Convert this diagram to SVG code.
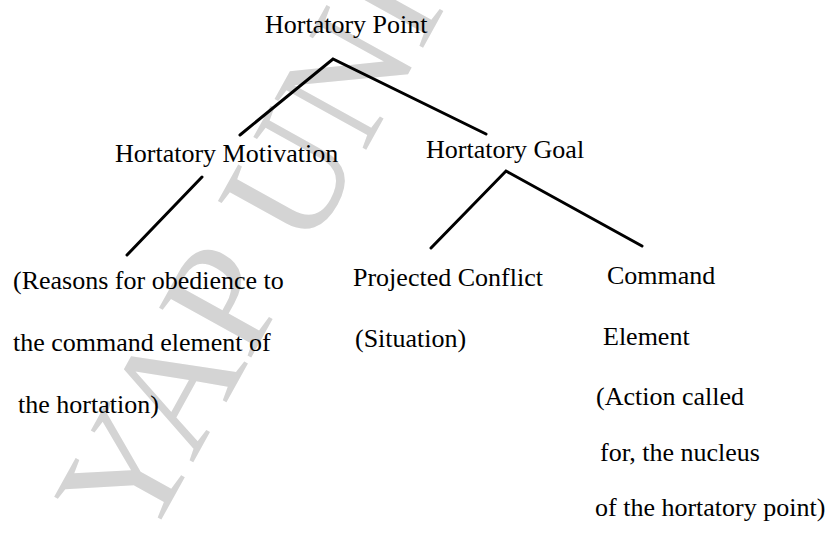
<svg xmlns="http://www.w3.org/2000/svg" width="835" height="534" viewBox="0 0 835 534">
<style>
text{font-family:'Liberation Serif','Times New Roman',serif}
.t{font-size:26px;fill:#000}
.wm{font-size:160px;fill:#d4d4d4}
.c{stroke:#000;stroke-width:3;fill:none;stroke-linecap:round;stroke-linejoin:miter}
</style>
<rect width="835" height="534" fill="#fff"/>
<g id="watermark" transform="translate(145,549) rotate(-61)">
<text class="wm" x="0" y="0">YAP UNI</text>
</g>
<g id="connectors">
<polyline class="c" points="240,135 333,59 486,134"/>
<line class="c" x1="202" y1="177" x2="127" y2="255"/>
<polyline class="c" points="431,248 506,171 642,246"/>
</g>
<g id="hortatory-point"><text class="t" x="265" y="33">Hortatory Point</text></g>
<g id="hortatory-motivation"><text class="t" x="115" y="162">Hortatory Motivation</text></g>
<g id="hortatory-goal"><text class="t" x="426" y="158">Hortatory Goal</text></g>
<g id="reasons">
<text class="t" x="13" y="289">(Reasons for obedience to</text>
<text class="t" x="13" y="351">the command element of</text>
<text class="t" x="18" y="413">the hortation)</text>
</g>
<g id="projected-conflict">
<text class="t" x="353" y="286">Projected Conflict</text>
<text class="t" x="355" y="347">(Situation)</text>
</g>
<g id="command-element">
<text class="t" x="607" y="284">Command</text>
<text class="t" x="603" y="345">Element</text>
<text class="t" x="596" y="405">(Action called</text>
<text class="t" x="600" y="461">for, the nucleus</text>
<text class="t" x="595" y="516">of the hortatory point)</text>
</g>
</svg>
